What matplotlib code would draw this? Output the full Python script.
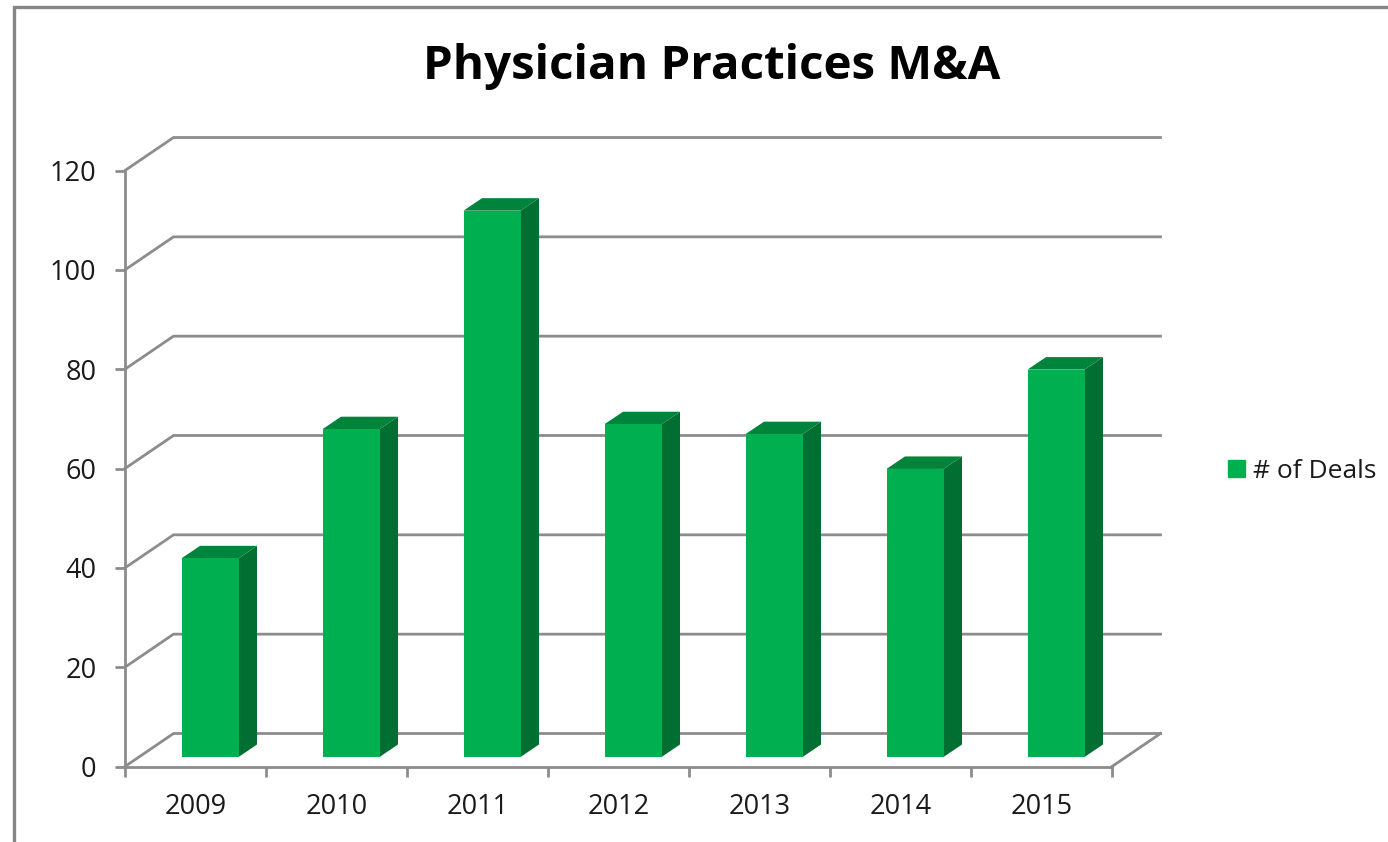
import numpy as np
import matplotlib
matplotlib.use("Agg")
import matplotlib.pyplot as plt
from matplotlib.patches import Polygon, Patch
from matplotlib.lines import Line2D
from matplotlib.transforms import Affine2D, IdentityTransform

years = ["2009", "2010", "2011", "2012", "2013", "2014", "2015"]
deals = [40, 66, 110, 67, 65, 58, 78]
yticks = [0, 20, 40, 60, 80, 100, 120]
series_name = "# of Deals"
title = "Physician Practices M&A"

FRONT, TOP, SIDE = "#00B050", "#00843C", "#006F31"
GRID = "#8C8C8C"
FONT = "Open Sans"
W, H = 1388, 842

fig = plt.figure(figsize=(W / 100, H / 100), dpi=100, facecolor="white")
ax = fig.add_axes([125 / W, (H - 766.5) / H, 987 / W, 596 / H])
ax.set_xlim(-0.5, 6.5)
ax.set_ylim(0, 120)
ax.patch.set_visible(False)
fig.canvas.draw()

DEPTH = (48.5, 33.0)      # wall depth in pixels
BAR_OFF = (14.5, 9.5)     # bar front plane offset from the axis plane
BAR_D = (18.5, 12.5)      # bar depth
BAR_W = 57 / 141


def disp(x, y, dx=0.0, dy=0.0):
    p = ax.transData.transform((x, y))
    return (p[0] + dx, p[1] + dy)


# walls and floor gridlines
for v in yticks:
    pts = [disp(-0.5, v), disp(-0.5, v, *DEPTH), disp(6.5, v, *DEPTH)]
    ax.add_line(Line2D(*zip(*pts), transform=IdentityTransform(), color=GRID, lw=2.0,
                       zorder=1, clip_on=False, solid_joinstyle="miter"))
pts = [disp(6.5, 0), disp(6.5, 0, *DEPTH)]
ax.add_line(Line2D(*zip(*pts), transform=IdentityTransform(), color=GRID, lw=2.0,
                   zorder=1, clip_on=False))

# bars
off = Affine2D().translate(*BAR_OFF)
ax.bar(range(len(years)), deals, width=BAR_W, color=FRONT, zorder=4,
       transform=ax.transData + off, clip_on=False)
ox, oy = BAR_OFF
dx, dy = BAR_D
for i, v in enumerate(deals):
    l, r = i - BAR_W / 2, i + BAR_W / 2
    side = [disp(r, 0, ox, oy), disp(r, v, ox, oy),
            disp(r, v, ox + dx, oy + dy), disp(r, 0, ox + dx, oy + dy)]
    top = [disp(l, v, ox, oy), disp(r, v, ox, oy),
           disp(r, v, ox + dx, oy + dy), disp(l, v, ox + dx, oy + dy)]
    ax.add_patch(Polygon(side, closed=True, transform=IdentityTransform(), fc=SIDE,
                         ec="none", zorder=3, clip_on=False))
    ax.add_patch(Polygon(top, closed=True, transform=IdentityTransform(), fc=TOP,
                         ec="none", zorder=3, clip_on=False))

# axes
for s in ("top", "right"):
    ax.spines[s].set_visible(False)
for s in ("left", "bottom"):
    ax.spines[s].set_color(GRID)
    ax.spines[s].set_linewidth(2.0)
    ax.spines[s].set_zorder(2)
ax.set_yticks(yticks)
ax.set_yticklabels([str(t) for t in yticks], fontfamily=FONT, fontsize=19.5, color="#1A1A1A")
ax.tick_params(axis="y", length=7.5, width=2.0, color=GRID, pad=13)
ax.set_xticks(range(len(years)))
ax.set_xticklabels(years, fontfamily=FONT, fontsize=19.5, color="#1A1A1A")
ax.tick_params(axis="x", which="major", length=0, pad=19)
ax.set_xticks(np.arange(-0.5, 7.0, 1.0), minor=True)
ax.tick_params(axis="x", which="minor", length=7, width=2.0, color=GRID)

# chart frame (left and top edges visible)
fig.add_artist(Line2D([13.5 / W, 13.5 / W, 1.0], [0, (H - 6.5) / H, (H - 6.5) / H],
                      transform=fig.transFigure, color="#858585", lw=2.4,
                      solid_joinstyle="miter"))

fig.text(712 / W, (H - 66) / H, title, ha="center", va="center",
         fontfamily=FONT, fontweight="bold", fontsize=34.2, color="black")

leg = fig.legend(handles=[Patch(color=FRONT, label=series_name)], loc="center left",
                 bbox_to_anchor=(1228 / W, (H - 471) / H), frameon=False,
                 prop={"family": FONT, "size": 19}, handlelength=0.64, handleheight=0.64,
                 handletextpad=0.3, borderpad=0, borderaxespad=0, labelcolor="#1A1A1A")

fig.savefig("out.png", dpi=100, facecolor="white")
